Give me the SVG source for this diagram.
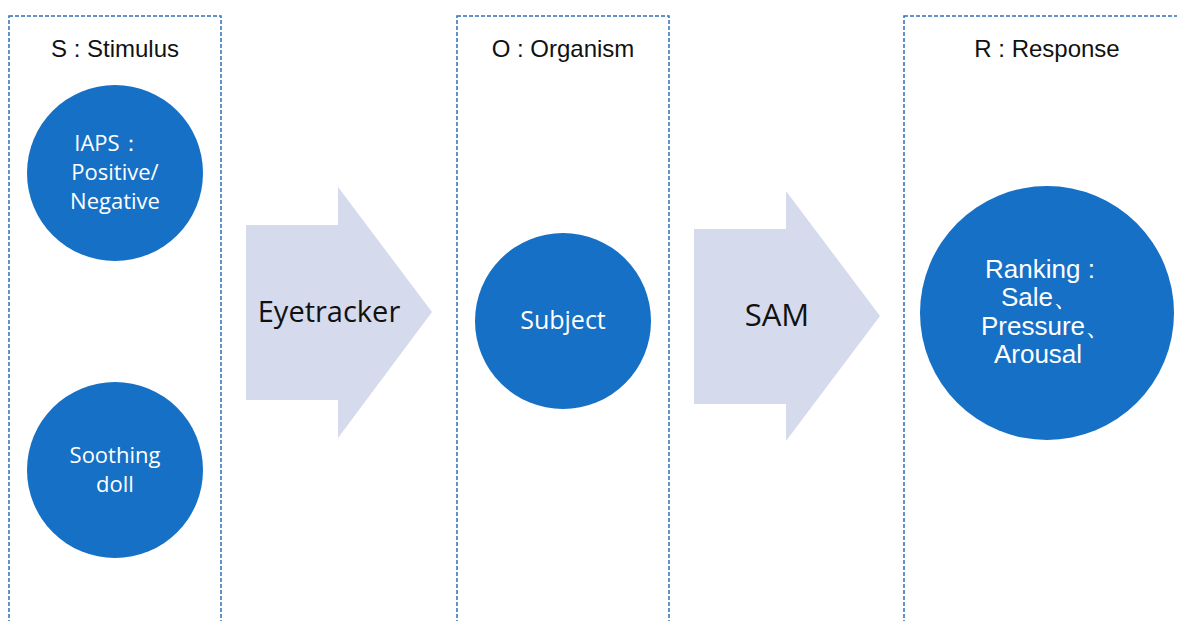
<svg xmlns="http://www.w3.org/2000/svg" width="1177" height="621" viewBox="0 0 1177 621">
<style>
.panel{fill:none;stroke:#2f6fb8;stroke-width:1.5;stroke-dasharray:4 2}
.circ{fill:#1570c6}
.arrow{fill:#d5daec}
.hdr{font-family:"Liberation Sans",Arial,sans-serif;font-size:24px;fill:#111;text-anchor:middle}
.ct{font-family:"Open Sans","Liberation Sans",sans-serif;font-size:22px;fill:#fff;text-anchor:middle}
.ca{font-family:"Liberation Sans",Arial,sans-serif;font-size:26px;fill:#fff;text-anchor:middle}
.at{font-family:"Open Sans","Liberation Sans",sans-serif;font-size:29px;fill:#111;text-anchor:middle}
</style>
<rect width="1177" height="621" fill="#fff"/>
<g id="panel-s"><rect class="panel" x="9" y="16" width="212" height="620"/><text class="hdr" x="115" y="57">S : Stimulus</text></g>
<g id="panel-o"><rect class="panel" x="457" y="16" width="212" height="620"/><text class="hdr" x="563" y="57">O : Organism</text></g>
<g id="panel-r"><rect class="panel" x="904" y="16" width="290" height="620"/><text class="hdr" x="1047" y="57">R : Response</text></g>
<g id="node-iaps"><circle class="circ" cx="115" cy="173" r="88"/>
<text class="ct" x="108" y="151">IAPS：</text><text class="ct" x="115" y="180">Positive/</text><text class="ct" x="115" y="209">Negative</text></g>
<g id="node-doll"><circle class="circ" cx="115" cy="470" r="88"/>
<text class="ct" x="115" y="463">Soothing</text><text class="ct" x="115" y="492">doll</text></g>
<g id="node-subject"><circle class="circ" cx="563" cy="321" r="88"/>
<text class="ct" x="563" y="329" style="font-size:25px">Subject</text></g>
<g id="node-response"><circle class="circ" cx="1047" cy="313" r="127"/>
<text class="ca" x="1040" y="278">Ranking :</text><text class="ca" x="1040" y="306">Sale、</text><text class="ca" x="1046" y="335">Pressure、</text><text class="ca" x="1038" y="363">Arousal</text></g>
<g id="connectors">
<g id="arrow-eyetracker"><polygon class="arrow" points="246,225 338,225 338,187 432,312 338,438 338,400 246,400"/><text class="at" x="329" y="322">Eyetracker</text></g>
<g id="arrow-sam"><polygon class="arrow" points="694,229 786,229 786,191 880,316 786,441 786,404 694,404"/><text class="at" x="777" y="326" style="font-size:31px">SAM</text></g>
</g>
</svg>
